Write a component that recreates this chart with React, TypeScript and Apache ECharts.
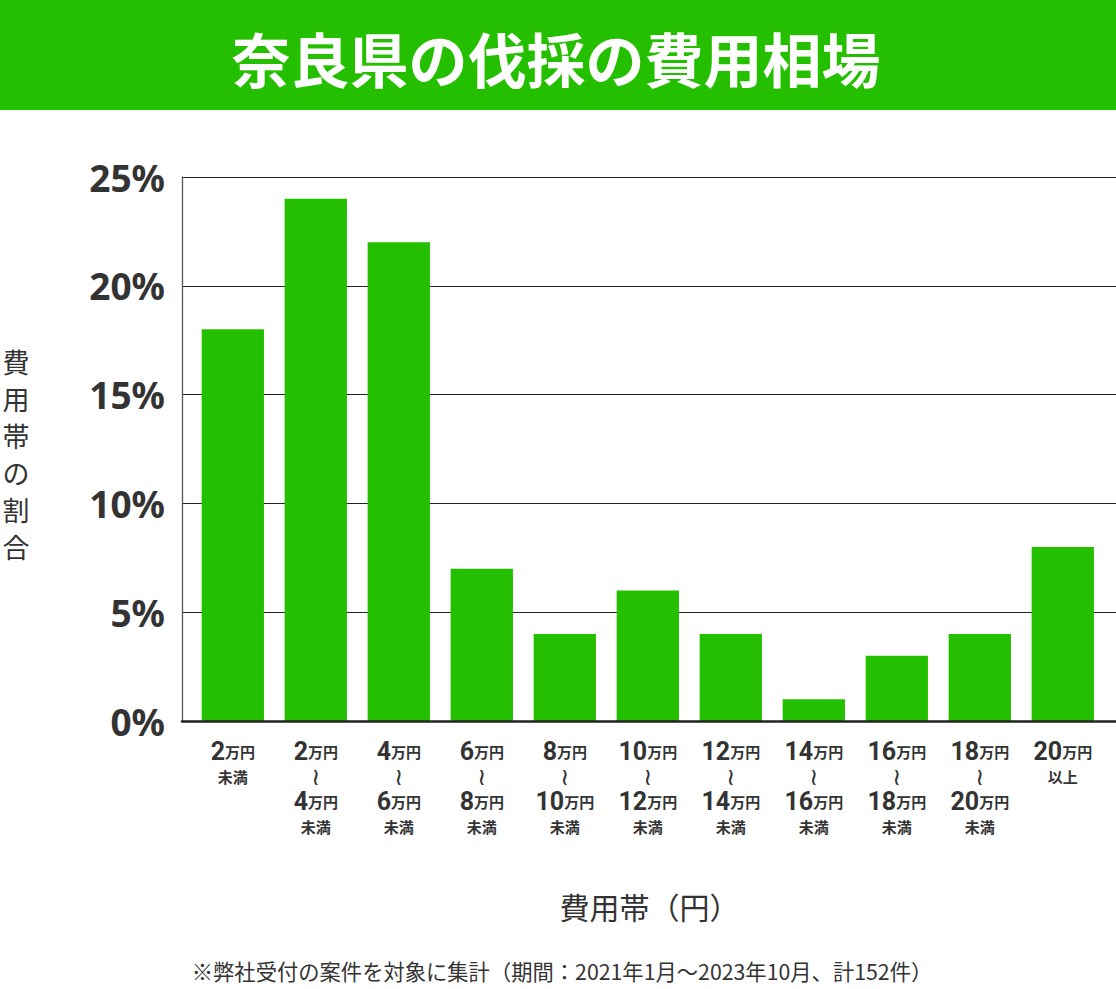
import React, { useEffect, useRef } from "react";
import * as echarts from "echarts";

const titleText = "奈良県の伐採の費用相場";
const categories = [
  "2万円未満",
  "2万円～4万円未満",
  "4万円～6万円未満",
  "6万円～8万円未満",
  "8万円～10万円未満",
  "10万円～12万円未満",
  "12万円～14万円未満",
  "14万円～16万円未満",
  "16万円～18万円未満",
  "18万円～20万円未満",
  "20万円以上",
];
const shares = [18, 24, 22, 7, 4, 6, 4, 1, 3, 4, 8];
const yTicks = [0, 5, 10, 15, 20, 25];
const yAxisName = "費用帯の割合";
const xAxisName = "費用帯（円）";
const footnote = "※弊社受付の案件を対象に集計（期間：2021年1月～2023年10月、計152件）";

const GREEN = "#24c000";
const TEXT = "#333333";
const CJK = "'Noto Sans CJK JP', 'Noto Sans', sans-serif";

function formatCategory(c: string): string {
  let m = c.match(/^(\d+)万円～(\d+)万円未満$/);
  if (m) return `{n|${m[1]}}{u|万円}\n{w|≀}\n{n|${m[2]}}{u|万円}\n{s|未満}`;
  m = c.match(/^(\d+)万円未満$/);
  if (m) return `{n|${m[1]}}{u|万円}\n{s|未満}`;
  m = c.match(/^(\d+)万円以上$/);
  if (m) return `{n|${m[1]}}{u|万円}\n{s|以上}`;
  return c;
}

export default function App() {
  const ref = useRef<HTMLDivElement>(null);
  useEffect(() => {
    if (!ref.current) return;
    const chart = echarts.init(ref.current, null, { renderer: "svg" });
    const yMax = yTicks[yTicks.length - 1];
    chart.setOption({
      animation: false,
      backgroundColor: "#ffffff",
      grid: [
        { left: 182, right: 0, top: 177, bottom: 268, containLabel: false },
        { left: 191.3, width: 913, top: 177, bottom: 268, containLabel: false },
      ],
      xAxis: [
        {
          type: "category",
          gridIndex: 0,
          data: categories,
          axisLabel: { show: false },
          axisTick: { show: false },
          axisLine: { show: true, lineStyle: { color: "#222222", width: 2.5 } },
          z: 5,
        },
        {
          type: "category",
          gridIndex: 1,
          data: categories,
          axisTick: { show: false },
          axisLine: { show: false },
          axisLabel: {
            interval: 0,
            margin: 18,
            formatter: (v: string) => formatCategory(v),
            lineHeight: 25,
            rich: {
              n: { fontFamily: "Roboto, sans-serif", fontWeight: "bold", fontSize: 25, color: TEXT, lineHeight: 25 },
              u: { fontFamily: CJK, fontWeight: "bold", fontSize: 15, color: TEXT, lineHeight: 25 },
              s: { fontFamily: CJK, fontWeight: "bold", fontSize: 15, color: TEXT, lineHeight: 25 },
              w: { fontFamily: "'DejaVu Sans', sans-serif", fontSize: 24, color: TEXT, lineHeight: 25 },
            },
          },
        },
      ],
      yAxis: [
        {
          type: "value",
          gridIndex: 0,
          min: 0,
          max: yMax,
          interval: 5,
          axisLine: { show: true, lineStyle: { color: "#555555", width: 1.3 } },
          axisTick: { show: false },
          splitLine: { show: true, lineStyle: { color: "#222222", width: 1 } },
          axisLabel: {
            margin: 17,
            formatter: (v: number) => `${v}%`,
            fontFamily: "'Noto Sans', sans-serif",
            fontWeight: "bold",
            fontSize: 37,
            color: TEXT,
          },
        },
        {
          type: "value",
          gridIndex: 1,
          min: 0,
          max: yMax,
          interval: 5,
          show: false,
          splitLine: { show: false },
        },
      ],
      series: [
        {
          type: "bar",
          xAxisIndex: 1,
          yAxisIndex: 1,
          data: shares,
          barWidth: 62.3,
          itemStyle: { color: GREEN },
          z: 2,
        },
      ],
      graphic: [
        {
          type: "rect",
          left: 0,
          top: 0,
          shape: { x: 0, y: 0, width: 1116, height: 110 },
          style: { fill: GREEN },
          z: 0,
        },
        {
          type: "text",
          x: 556,
          y: 57,
          style: {
            text: titleText,
            fill: "#ffffff",
            fontSize: 59,
            fontWeight: "bold",
            fontFamily: CJK,
            textAlign: "center",
            textVerticalAlign: "middle",
          },
          z: 1,
        },
        {
          type: "text",
          x: 16,
          y: 454,
          style: {
            text: yAxisName.split("").join("\n"),
            fill: TEXT,
            fontSize: 27,
            lineHeight: 37,
            fontFamily: CJK,
            textAlign: "center",
            textVerticalAlign: "middle",
          },
        },
        {
          type: "text",
          x: 649.5,
          y: 906,
          style: {
            text: xAxisName,
            fill: TEXT,
            fontSize: 30,
            fontFamily: CJK,
            textAlign: "center",
            textVerticalAlign: "middle",
          },
        },
        {
          type: "text",
          x: 562,
          y: 970,
          style: {
            text: footnote,
            fill: TEXT,
            fontSize: 21.3,
            fontFamily: CJK,
            textAlign: "center",
            textVerticalAlign: "middle",
          },
        },
      ],
    });
    return () => chart.dispose();
  }, []);
  return (
    <div
      ref={ref}
      style={{ position: "absolute", left: 0, top: 0, width: 1116, height: 989 }}
    />
  );
}
